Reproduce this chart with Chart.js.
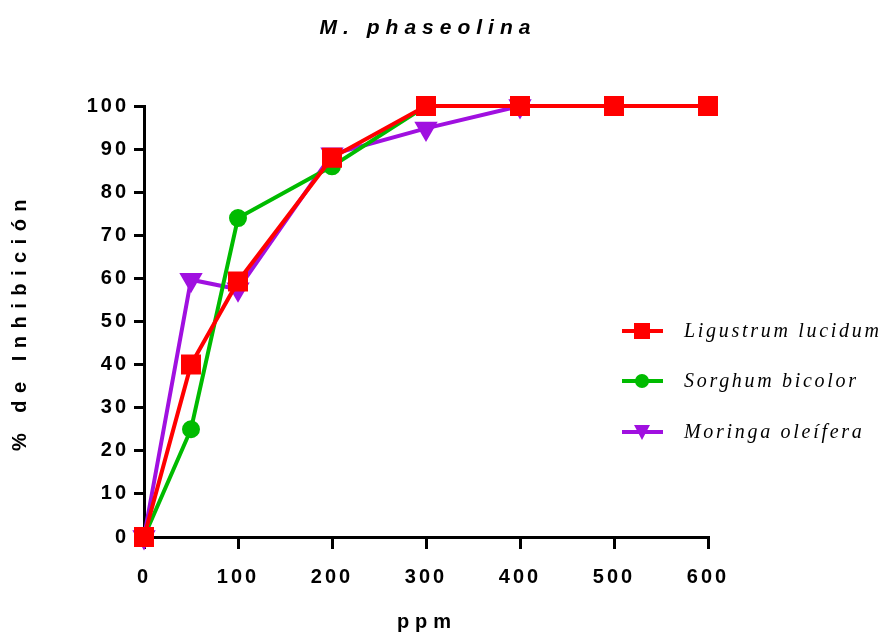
<!DOCTYPE html>
<html>
<head>
<meta charset="utf-8">
<script src="https://cdn.jsdelivr.net/npm/chart.js@4/dist/chart.umd.min.js"></script>
<style>
  html, body { margin: 0; padding: 0; background: #fff; }
  #wrap { width: 882px; height: 636px; }
</style>
</head>
<body>
<div id="wrap"><canvas id="inhibitionChart" width="882" height="636"></canvas></div>
<script>
const ppm = [0, 50, 100, 200, 300, 400, 500, 600];
const ligustrum = [0, 40, 59.3, 88, 100, 100, 100, 100];
const sorghum = [0, 25, 74, 86, 100, null, null, null];
const moringa = [0, 59.7, 57.5, 88.8, 94.8, 100, null, null];
const seriesNames = ['Ligustrum lucidum', 'Sorghum bicolor', 'Moringa oleífera'];
const chartTitle = 'M. phaseolina';
const xTitle = 'ppm';
const yTitle = '% de Inhibición';

const colors = ['#ff0000', '#00bb00', '#a010e0'];

function toPoints(values) {
  return ppm.map((x, i) => ({ x: x, y: values[i] }));
}

function drawMarker(ctx, style, x, y, color) {
  ctx.fillStyle = color;
  ctx.beginPath();
  if (style === 'rect') {
    ctx.rect(x - 8, y - 8, 16, 16);
  } else if (style === 'circle') {
    ctx.arc(x, y, 7, 0, Math.PI * 2);
  } else {
    ctx.moveTo(x - 8, y - 7);
    ctx.lineTo(x + 8, y - 7);
    ctx.lineTo(x, y + 8);
    ctx.closePath();
  }
  ctx.fill();
}

// titles, axis titles and legend need their own letter spacing
const textPlugin = {
  id: 'textPlugin',
  beforeDraw(chart) {
    chart.ctx.letterSpacing = '3px';
  },
  afterDraw(chart) {
    const ctx = chart.ctx;
    const area = chart.chartArea;
    ctx.save();
    ctx.fillStyle = '#000';
    ctx.textBaseline = 'middle';

    ctx.letterSpacing = '6px';
    ctx.font = 'italic bold 21px "Liberation Sans", Arial, sans-serif';
    ctx.textAlign = 'center';
    ctx.fillText(chartTitle, 428, 28);

    ctx.letterSpacing = '6px';
    ctx.font = 'bold 20px "Liberation Sans", Arial, sans-serif';
    ctx.fillText(xTitle, 427, 622);

    ctx.save();
    ctx.translate(20, (area.top + area.bottom) / 2);
    ctx.rotate(-Math.PI / 2);
    ctx.letterSpacing = '7.5px';
    ctx.fillText(yTitle, 0, 0);
    ctx.restore();

    // legend
    const styles = ['rect', 'circle', 'triangle'];
    const rows = [331, 381, 432];
    ctx.letterSpacing = '2.7px';
    ctx.font = 'italic 20px "Liberation Serif", "Times New Roman", serif';
    ctx.textAlign = 'left';
    for (let i = 0; i < seriesNames.length; i++) {
      const y = rows[i];
      ctx.strokeStyle = colors[i];
      ctx.lineWidth = 4;
      ctx.beginPath();
      ctx.moveTo(622, y);
      ctx.lineTo(663, y);
      ctx.stroke();
      drawMarker(ctx, styles[i], 642, y, colors[i]);
      ctx.fillStyle = '#000';
      ctx.fillText(seriesNames[i], 684, y + 1);
    }
    ctx.restore();
    ctx.letterSpacing = '0px';
  }
};

const ctx = document.getElementById('inhibitionChart').getContext('2d');
const chart = new Chart(ctx, {
  type: 'line',
  data: {
    datasets: [
      {
        label: seriesNames[0],
        data: toPoints(ligustrum),
        borderColor: colors[0],
        backgroundColor: colors[0],
        borderWidth: 4,
        pointStyle: 'rect',
        pointRadius: 11.3,
        pointHoverRadius: 11.3,
        clip: false
      },
      {
        label: seriesNames[1],
        data: toPoints(sorghum),
        borderColor: colors[1],
        backgroundColor: colors[1],
        borderWidth: 4,
        pointStyle: 'circle',
        pointRadius: 7,
        pointHoverRadius: 7,
        clip: false
      },
      {
        label: seriesNames[2],
        data: toPoints(moringa),
        borderColor: colors[2],
        backgroundColor: colors[2],
        borderWidth: 4,
        pointStyle: 'triangle',
        pointRotation: 180,
        pointRadius: 9.5,
        pointHoverRadius: 9.5,
        clip: false
      }
    ]
  },
  options: {
    responsive: false,
    animation: false,
    layout: { padding: { top: 106, right: 174, left: 0, bottom: 0 } },
    plugins: {
      legend: { display: false },
      title: { display: false },
      tooltip: { enabled: false }
    },
    scales: {
      x: {
        type: 'linear',
        min: 0,
        max: 600,
        afterFit(scale) { scale.height = 99; },
        ticks: {
          stepSize: 100,
          padding: 16,
          color: '#000',
          font: { family: '"Liberation Sans", Arial, sans-serif', size: 20, weight: 'bold' }
        },
        grid: { drawOnChartArea: false, drawTicks: true, tickLength: 12, color: '#000', lineWidth: 3 },
        border: { color: '#000', width: 3 }
      },
      y: {
        min: 0,
        max: 100,
        afterFit(scale) { scale.width = 144; },
        ticks: {
          stepSize: 10,
          padding: 5,
          color: '#000',
          font: { family: '"Liberation Sans", Arial, sans-serif', size: 20, weight: 'bold' }
        },
        grid: { drawOnChartArea: false, drawTicks: true, tickLength: 10, color: '#000', lineWidth: 3 },
        border: { color: '#000', width: 3 }
      }
    }
  },
  plugins: [textPlugin]
});
</script>
</body>
</html>
